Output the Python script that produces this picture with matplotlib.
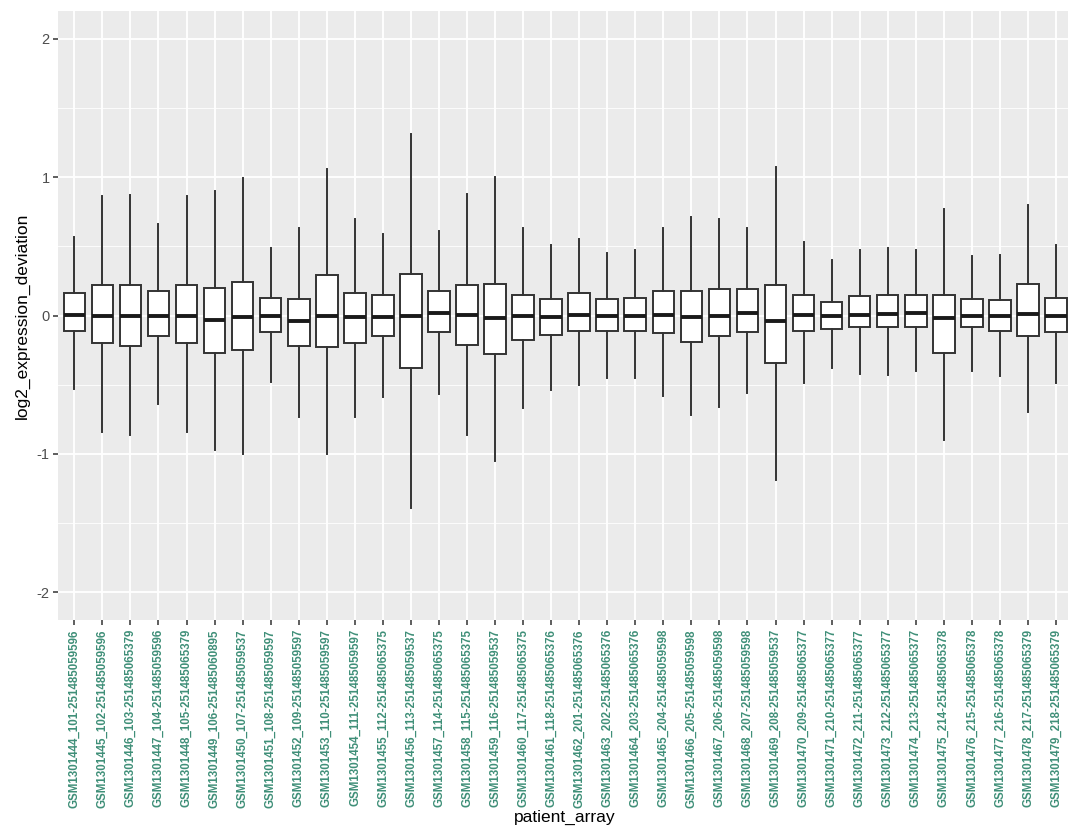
import matplotlib
matplotlib.use("Agg")
import matplotlib.pyplot as plt
from matplotlib.ticker import MultipleLocator

plt.rcParams['font.family'] = ['Liberation Sans', 'DejaVu Sans']

samples = [
    "GSM1301444_101-251485059596", "GSM1301445_102-251485059596", "GSM1301446_103-251485065379",
    "GSM1301447_104-251485059596", "GSM1301448_105-251485065379", "GSM1301449_106-251485060895",
    "GSM1301450_107-251485059537", "GSM1301451_108-251485059597", "GSM1301452_109-251485059597",
    "GSM1301453_110-251485059597", "GSM1301454_111-251485059597", "GSM1301455_112-251485065375",
    "GSM1301456_113-251485059537", "GSM1301457_114-251485065375", "GSM1301458_115-251485065375",
    "GSM1301459_116-251485059537", "GSM1301460_117-251485065375", "GSM1301461_118-251485065376",
    "GSM1301462_201-251485065376", "GSM1301463_202-251485065376", "GSM1301464_203-251485065376",
    "GSM1301465_204-251485059598", "GSM1301466_205-251485059598", "GSM1301467_206-251485059598",
    "GSM1301468_207-251485059598", "GSM1301469_208-251485059537", "GSM1301470_209-251485065377",
    "GSM1301471_210-251485065377", "GSM1301472_211-251485065377", "GSM1301473_212-251485065377",
    "GSM1301474_213-251485065377", "GSM1301475_214-251485065378", "GSM1301476_215-251485065378",
    "GSM1301477_216-251485065378", "GSM1301478_217-251485065379", "GSM1301479_218-251485065379",
]

# whisker ends, quartiles and medians
whisker_hi = [0.57, 0.86, 0.87, 0.66, 0.86, 0.90, 0.99, 0.49, 0.63,
              1.06, 0.70, 0.59, 1.31, 0.61, 0.88, 1.00, 0.63, 0.51,
              0.55, 0.45, 0.47, 0.63, 0.71, 0.70, 0.63, 1.07, 0.53,
              0.40, 0.47, 0.49, 0.47, 0.77, 0.43, 0.44, 0.80, 0.51]
q3 = [0.16, 0.22, 0.22, 0.18, 0.22, 0.20, 0.24, 0.13, 0.12,
      0.29, 0.16, 0.15, 0.30, 0.18, 0.22, 0.23, 0.15, 0.12,
      0.16, 0.12, 0.13, 0.18, 0.18, 0.19, 0.19, 0.22, 0.15,
      0.10, 0.14, 0.15, 0.15, 0.15, 0.12, 0.11, 0.23, 0.13]
median = [0.005, 0.0, -0.005, 0.0, 0.0, -0.03, -0.01, 0.0, -0.04,
          0.0, -0.01, -0.01, 0.0, 0.02, 0.005, -0.02, 0.0, -0.01,
          0.007, 0.0, 0.0, 0.007, -0.01, 0.0, 0.02, -0.04, 0.007,
          0.0, 0.007, 0.01, 0.02, -0.02, 0.0, -0.007, 0.01, 0.0]
q1 = [-0.11, -0.20, -0.22, -0.15, -0.20, -0.27, -0.25, -0.12, -0.22,
      -0.23, -0.20, -0.15, -0.38, -0.12, -0.21, -0.28, -0.18, -0.14,
      -0.11, -0.11, -0.11, -0.13, -0.19, -0.15, -0.12, -0.34, -0.11,
      -0.10, -0.08, -0.08, -0.08, -0.27, -0.08, -0.11, -0.15, -0.12]
whisker_lo = [-0.53, -0.84, -0.86, -0.64, -0.84, -0.97, -1.00, -0.48, -0.73,
              -1.00, -0.73, -0.59, -1.39, -0.57, -0.86, -1.05, -0.67, -0.54,
              -0.50, -0.45, -0.45, -0.58, -0.72, -0.66, -0.56, -1.19, -0.49,
              -0.38, -0.42, -0.43, -0.40, -0.90, -0.40, -0.44, -0.70, -0.49]

stats = []
for i in range(len(samples)):
    stats.append({'whislo': whisker_lo[i], 'q1': q1[i], 'med': median[i],
                  'q3': q3[i], 'whishi': whisker_hi[i], 'fliers': []})

fig = plt.figure(figsize=(10.68, 8.33), dpi=100)
W, H = 1068, 833
left, right, top, bottom = 57.5, 1072.8, 11, 620
ax = fig.add_axes([left / W, 1 - bottom / H, (right - left) / W, (bottom - top) / H])
ax.set_facecolor('#EBEBEB')
for s in ax.spines.values():
    s.set_visible(False)

pos = list(range(1, len(samples) + 1))
ax.bxp(stats, positions=pos, widths=0.77, showcaps=False, showfliers=False,
       patch_artist=True,
       boxprops=dict(facecolor='white', edgecolor='#333333', linewidth=1.4),
       whiskerprops=dict(color='#333333', linewidth=1.4),
       medianprops=dict(color='#1a1a1a', linewidth=2.8, solid_capstyle='butt'),
       zorder=3)

ax.set_xlim(0.4, len(samples) + 0.6)
ax.set_ylim(-2.2, 2.2)
ax.yaxis.set_major_locator(MultipleLocator(1))
ax.yaxis.set_minor_locator(MultipleLocator(0.5))
ax.grid(which='major', color='white', linewidth=1.3, zorder=0)
ax.grid(which='minor', axis='y', color='white', linewidth=0.6, zorder=0)
ax.set_axisbelow(True)

ax.set_xticks(pos)
ax.set_xticklabels(samples, rotation=90, fontsize=8.3, color='#3F8F78',
                   fontweight='bold')
ax.set_yticks([-2, -1, 0, 1, 2])
ax.set_yticklabels(['-2', '-1', '0', '1', '2'])
ax.tick_params(axis='y', which='major', labelsize=10.5, labelcolor='#4D4D4D',
               color='#333333', length=3.5, width=1.1, pad=2)
ax.tick_params(axis='y', which='minor', length=0)
ax.tick_params(axis='x', color='#333333', length=3.5, width=1.1, pad=3)

ax.set_xlabel('patient_array', fontsize=12.5, labelpad=2)
ax.set_ylabel('log2_expression_deviation', fontsize=12.5, labelpad=5)

fig.savefig('out.png', dpi=100)
